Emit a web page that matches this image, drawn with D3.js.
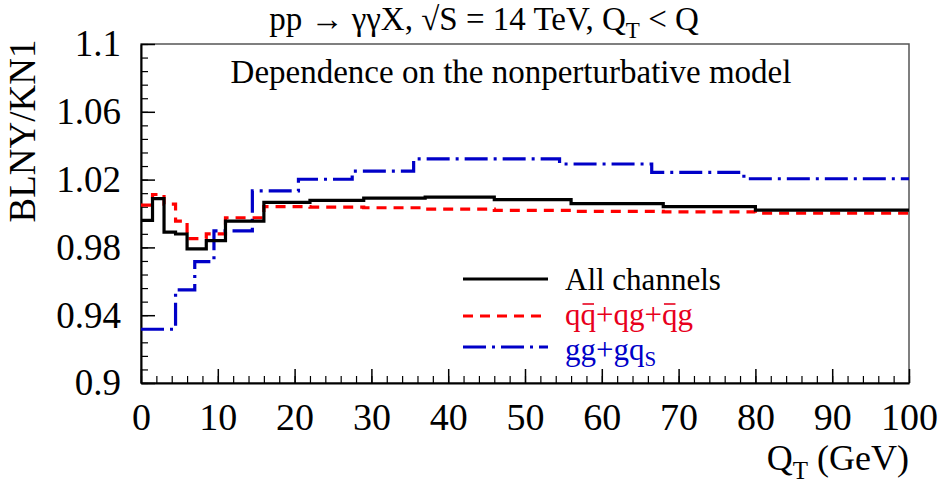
<!DOCTYPE html>
<html>
<head>
<meta charset="utf-8">
<script src="https://cdn.jsdelivr.net/npm/d3@7"></script>
<style>
  html, body { margin: 0; padding: 0; background: #fff; }
  svg { display: block; }
  text { font-family: "Liberation Serif", "DejaVu Serif", serif; }
</style>
</head>
<body>
<svg id="chart" width="943" height="486"></svg>
<script>
// Ratio BLNY/KN1 versus Q_T, step histograms per channel set
const allEdges   = [0, 1.5, 3, 4.5, 6, 8.5, 11, 16, 22, 29, 37, 46, 56, 68, 80, 100];
const allValues  = [0.9960, 1.0088, 0.9890, 0.9879, 0.9791, 0.9840, 0.9955, 1.0066, 1.0078, 1.0091, 1.0097, 1.0082, 1.0058, 1.0040, 1.0020];

const qqEdges    = [0, 1.5, 3, 4.5, 6, 8.5, 11, 16, 22, 29, 37, 46, 56, 68, 80, 100];
const qqValues   = [1.0050, 1.0112, 1.0055, 0.9955, 0.9852, 0.9880, 0.9975, 1.0040, 1.0038, 1.0034, 1.0026, 1.0018, 1.0012, 1.0010, 1.0002];

const ggEdges    = [0, 4.5, 7, 9.5, 14.5, 20.5, 27.5, 35.5, 54.5, 66.5, 78.5, 100];
const ggValues   = [0.9317, 0.9549, 0.9716, 0.9898, 1.0133, 1.0202, 1.0250, 1.0322, 1.0292, 1.0243, 1.0205];

const xTicks = [0, 10, 20, 30, 40, 50, 60, 70, 80, 90, 100];
const yTicks = [0.9, 0.94, 0.98, 1.02, 1.06, 1.1];
const yTickLabels = ["0.9", "0.94", "0.98", "1.02", "1.06", "1.1"];

const svg = d3.select("#chart");
const L = 141, R = 909, T = 44, B = 383;

const x = d3.scaleLinear().domain([0, 100]).range([L, R]);
const y = d3.scaleLinear().domain([0.9, 1.1]).range([B, T]);

// frame
svg.append("rect")
  .attr("x", L).attr("y", T).attr("width", R - L).attr("height", B - T)
  .attr("fill", "none").attr("stroke", "#555").attr("stroke-width", 1.5);

// minor ticks (inside the frame)
const xMinor = d3.range(0, 100.001, 2);
const yMinor = d3.range(0, 26).map(i => 0.9 + i * 0.008);

svg.append("g").attr("transform", `translate(0,${B})`)
  .call(d3.axisBottom(x).tickValues(xMinor).tickSize(-7).tickFormat(""))
  .call(g => g.select(".domain").remove())
  .call(g => g.selectAll("line").attr("stroke", "#000").attr("stroke-width", 1.2));

svg.append("g").attr("transform", `translate(${L},0)`)
  .call(d3.axisLeft(y).tickValues(yMinor.filter(v => v <= 1.1 + 1e-9)).tickSize(-7).tickFormat(""))
  .call(g => g.select(".domain").remove())
  .call(g => g.selectAll("line").attr("stroke", "#000").attr("stroke-width", 1.2));

// major ticks and labels
const xAxis = svg.append("g").attr("transform", `translate(0,${B})`)
  .call(d3.axisBottom(x).tickValues(xTicks).tickSizeInner(-14).tickSizeOuter(0).tickPadding(20).tickFormat(d3.format("d")));
xAxis.select(".domain").attr("stroke", "#000").attr("stroke-width", 2);
xAxis.selectAll("line").attr("stroke", "#000").attr("stroke-width", 1.5);
xAxis.selectAll("text").attr("font-size", 38).attr("fill", "#000")
  .attr("font-family", "Liberation Serif");

const yAxis = svg.append("g").attr("transform", `translate(${L},0)`)
  .call(d3.axisLeft(y).tickValues(yTicks).tickSizeInner(-14).tickSizeOuter(0).tickPadding(20)
    .tickFormat((d, i) => yTickLabels[i]));
yAxis.select(".domain").attr("stroke", "#000").attr("stroke-width", 2);
yAxis.selectAll("line").attr("stroke", "#000").attr("stroke-width", 1.5);
yAxis.selectAll("text").attr("font-size", 37).attr("fill", "#000")
  .attr("font-family", "Liberation Serif");

// histogram outlines
function stepPoints(edges, values) {
  const pts = values.map((v, i) => [edges[i], v]);
  pts.push([edges[edges.length - 1], values[values.length - 1]]);
  return pts;
}
const line = d3.line().x(d => x(d[0])).y(d => y(d[1])).curve(d3.curveStepAfter);

const series = [
  { name: "All channels", edges: allEdges, values: allValues, color: "#000000", dash: null },
  { name: "qq", edges: qqEdges, values: qqValues, color: "#ff0000", dash: "10,7" },
  { name: "gg", edges: ggEdges, values: ggValues, color: "#0000c8", dash: "23,6,3,6" }
];

const plot = svg.append("g");
[series[2], series[1], series[0]].forEach(s => {
  plot.append("path")
    .attr("d", line(stepPoints(s.edges, s.values)))
    .attr("fill", "none")
    .attr("stroke", s.color)
    .attr("stroke-width", 3.2)
    .attr("stroke-dasharray", s.dash);
});

// title
const title = svg.append("text").attr("x", 484).attr("y", 30)
  .attr("text-anchor", "middle").attr("font-size", 33).attr("fill", "#000");
title.append("tspan").text("pp \u2192 \u03b3\u03b3X, \u221aS = 14 TeV, Q");
title.append("tspan").attr("font-size", 23).attr("dy", 8).text("T");
title.append("tspan").attr("dy", -8).text(" < Q");

// annotation inside the frame
svg.append("text").attr("x", 511).attr("y", 83)
  .attr("text-anchor", "middle").attr("font-size", 33).attr("fill", "#000")
  .text("Dependence on the nonperturbative model");

// legend
const legendRows = [
  { s: series[0], y: 279 },
  { s: series[1], y: 316 },
  { s: series[2], y: 347 }
];
legendRows.forEach(r => {
  svg.append("line")
    .attr("x1", 463).attr("x2", 548).attr("y1", r.y).attr("y2", r.y)
    .attr("stroke", r.s.color).attr("stroke-width", 3.2)
    .attr("stroke-dasharray", r.s.dash);
});
svg.append("text").attr("x", 565).attr("y", 290).attr("font-size", 31).attr("fill", "#000")
  .text("All channels");

// antiquark label: bars drawn over the barred characters
const redColor = "#e8001c";
const qqLabel = svg.append("text").attr("x", 565).attr("y", 325).attr("font-size", 31).attr("fill", redColor)
  .text("qq+qg+qg");
[1, 6].forEach(i => {
  const ext = qqLabel.node().getExtentOfChar(i);
  svg.append("line")
    .attr("x1", ext.x + 2).attr("x2", ext.x + ext.width - 2)
    .attr("y1", 304).attr("y2", 304)
    .attr("stroke", redColor).attr("stroke-width", 1.6);
});

const t3 = svg.append("text").attr("x", 565).attr("y", 360).attr("font-size", 31).attr("fill", "#0000c8");
t3.append("tspan").text("gg+gq");
t3.append("tspan").attr("font-size", 21).attr("dy", 6).text("S");

// axis titles
const xt = svg.append("text").attr("x", 909).attr("y", 470)
  .attr("text-anchor", "end").attr("font-size", 36).attr("fill", "#000");
xt.append("tspan").text("Q");
xt.append("tspan").attr("font-size", 25).attr("dy", 9).text("T");
xt.append("tspan").attr("dy", -9).text(" (GeV)");

svg.append("text")
  .attr("transform", "translate(35,131) rotate(-90)")
  .attr("text-anchor", "middle").attr("font-size", 37).attr("fill", "#000")
  .text("BLNY/KN1");
</script>
</body>
</html>
